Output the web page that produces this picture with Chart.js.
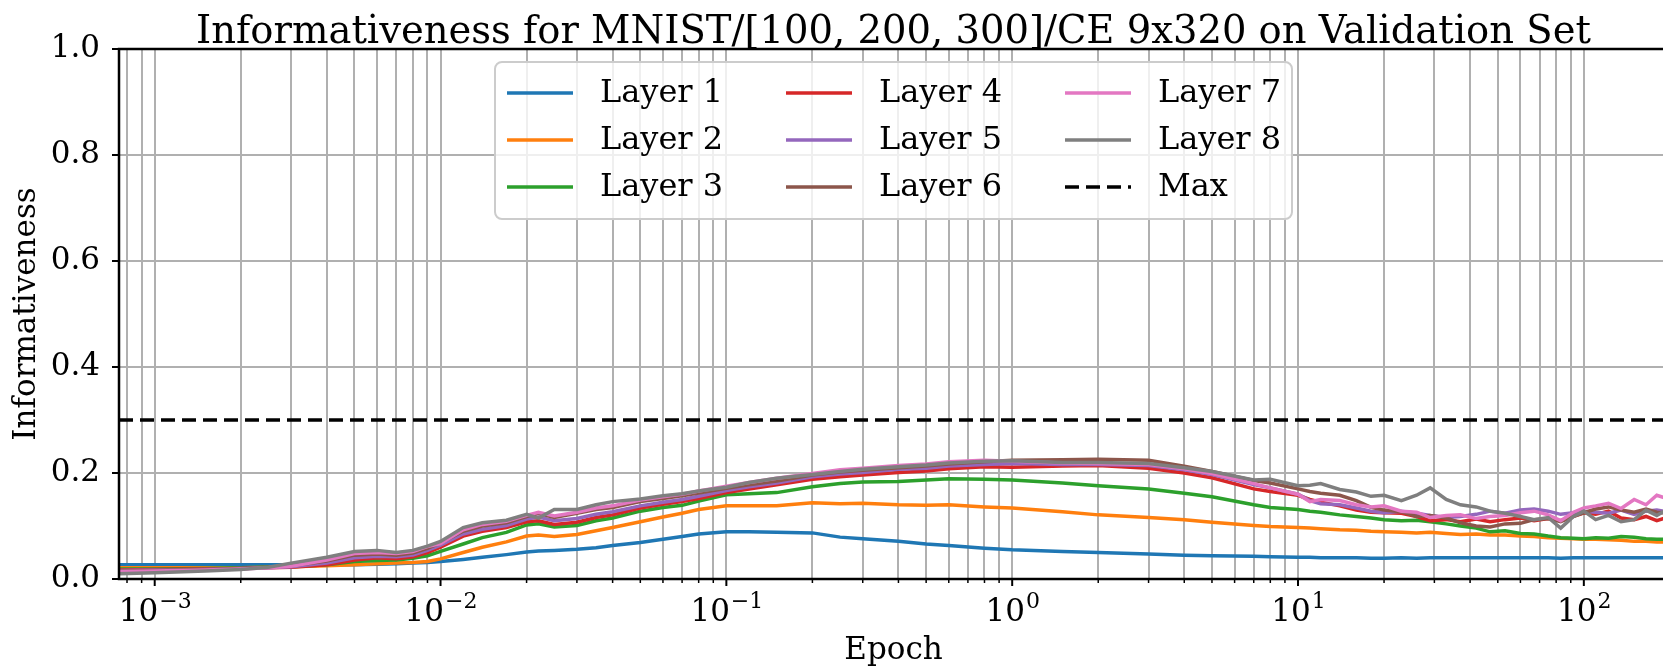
<!DOCTYPE html>
<html lang="en">

<head>
    <meta charset="UTF-8">
    <title>Informativeness</title>
    <style>
        html,
        body {
            margin: 0;
            padding: 0;
            background: #ffffff;
            overflow: hidden;
        }
    </style>
</head>

<body>
    <canvas id="myChart" width="1680" height="669"></canvas>
    <script src="https://cdn.jsdelivr.net/npm/chart.js"></script>
    <script>
        // x 軸 (epoch) 與各層數值
        const epochs = [0.00075, 0.001, 0.0015, 0.002, 0.0025, 0.003, 0.004, 0.005, 0.006, 0.007, 0.008, 0.009,
            0.01, 0.012, 0.014, 0.017, 0.02, 0.022, 0.025, 0.03, 0.035, 0.04, 0.05, 0.06,
            0.07, 0.08, 0.1, 0.12, 0.15, 0.2, 0.25, 0.3, 0.4, 0.5, 0.6, 0.8,
            1, 1.5, 2, 3, 4, 5, 7, 8, 10, 11, 12, 14,
            16, 18, 20, 23, 26, 29, 33, 37, 42, 47, 53, 60,
            67, 75, 83, 92, 100, 110, 122, 135, 150, 165, 180, 200];

        const layer1 = [0.027, 0.027, 0.027, 0.027, 0.027, 0.027, 0.027, 0.027, 0.028, 0.029, 0.030, 0.031,
            0.033, 0.037, 0.041, 0.046, 0.051, 0.053, 0.054, 0.056, 0.059, 0.063, 0.069, 0.075,
            0.080, 0.085, 0.089, 0.089, 0.088, 0.087, 0.079, 0.076, 0.071, 0.066, 0.063, 0.058,
            0.055, 0.052, 0.050, 0.047, 0.045, 0.044, 0.043, 0.042, 0.041, 0.041, 0.040, 0.040,
            0.040, 0.039, 0.039, 0.040, 0.039, 0.040, 0.040, 0.040, 0.040, 0.040, 0.040, 0.040,
            0.040, 0.040, 0.039, 0.040, 0.040, 0.040, 0.040, 0.040, 0.040, 0.040, 0.040, 0.040];
        const layer2 = [0.021, 0.021, 0.021, 0.021, 0.022, 0.023, 0.025, 0.027, 0.029, 0.030, 0.031, 0.033,
            0.038, 0.050, 0.060, 0.070, 0.081, 0.083, 0.080, 0.084, 0.091, 0.097, 0.108, 0.117,
            0.124, 0.131, 0.138, 0.138, 0.138, 0.144, 0.142, 0.143, 0.140, 0.139, 0.140, 0.136,
            0.134, 0.127, 0.121, 0.116, 0.112, 0.107, 0.101, 0.099, 0.097, 0.096, 0.095, 0.093,
            0.092, 0.090, 0.089, 0.088, 0.087, 0.088, 0.086, 0.084, 0.085, 0.083, 0.083, 0.081,
            0.080, 0.078, 0.077, 0.076, 0.075, 0.075, 0.074, 0.073, 0.071, 0.071, 0.070, 0.070];
        const layer3 = [0.019, 0.019, 0.020, 0.021, 0.022, 0.023, 0.027, 0.033, 0.035, 0.036, 0.039, 0.044,
            0.052, 0.066, 0.078, 0.088, 0.102, 0.104, 0.098, 0.101, 0.110, 0.115, 0.128, 0.135,
            0.139, 0.147, 0.159, 0.161, 0.163, 0.174, 0.180, 0.183, 0.184, 0.187, 0.189, 0.188,
            0.187, 0.181, 0.176, 0.170, 0.162, 0.155, 0.140, 0.135, 0.131, 0.128, 0.126, 0.121,
            0.118, 0.115, 0.112, 0.110, 0.111, 0.108, 0.104, 0.100, 0.096, 0.089, 0.091, 0.086,
            0.085, 0.081, 0.078, 0.077, 0.076, 0.078, 0.077, 0.080, 0.079, 0.076, 0.075, 0.075];
        const layer4 = [0.017, 0.018, 0.019, 0.020, 0.021, 0.022, 0.027, 0.036, 0.040, 0.038, 0.042, 0.050,
            0.060, 0.081, 0.090, 0.097, 0.108, 0.110, 0.103, 0.107, 0.116, 0.121, 0.134, 0.141,
            0.146, 0.152, 0.163, 0.170, 0.178, 0.188, 0.193, 0.196, 0.201, 0.204, 0.208, 0.212,
            0.211, 0.213, 0.214, 0.209, 0.200, 0.191, 0.170, 0.165, 0.158, 0.150, 0.145, 0.138,
            0.130, 0.126, 0.125, 0.124, 0.118, 0.110, 0.112, 0.108, 0.113, 0.108, 0.112, 0.115,
            0.110, 0.114, 0.110, 0.118, 0.125, 0.122, 0.128, 0.115, 0.112, 0.118, 0.110, 0.118];
        const layer5 = [0.016, 0.017, 0.018, 0.020, 0.021, 0.023, 0.030, 0.040, 0.043, 0.042, 0.045, 0.054,
            0.064, 0.085, 0.094, 0.101, 0.113, 0.117, 0.110, 0.114, 0.122, 0.127, 0.138, 0.145,
            0.150, 0.156, 0.167, 0.174, 0.181, 0.193, 0.198, 0.201, 0.207, 0.209, 0.213, 0.216,
            0.218, 0.216, 0.216, 0.214, 0.206, 0.197, 0.178, 0.172, 0.160, 0.148, 0.142, 0.140,
            0.134, 0.128, 0.125, 0.128, 0.124, 0.120, 0.116, 0.118, 0.122, 0.128, 0.124, 0.130,
            0.132, 0.128, 0.122, 0.125, 0.128, 0.126, 0.124, 0.130, 0.122, 0.128, 0.130, 0.126];
        const layer6 = [0.015, 0.016, 0.018, 0.020, 0.022, 0.025, 0.034, 0.045, 0.047, 0.045, 0.049, 0.058,
            0.068, 0.090, 0.100, 0.106, 0.118, 0.124, 0.116, 0.124, 0.131, 0.135, 0.146, 0.152,
            0.157, 0.162, 0.171, 0.178, 0.185, 0.196, 0.202, 0.205, 0.210, 0.213, 0.217, 0.221,
            0.224, 0.225, 0.226, 0.224, 0.213, 0.203, 0.186, 0.181, 0.170, 0.165, 0.162, 0.158,
            0.148, 0.135, 0.130, 0.127, 0.118, 0.120, 0.115, 0.106, 0.100, 0.098, 0.104, 0.105,
            0.112, 0.114, 0.108, 0.118, 0.125, 0.132, 0.136, 0.130, 0.126, 0.132, 0.126, 0.124];
        const layer7 = [0.014, 0.015, 0.017, 0.019, 0.021, 0.024, 0.036, 0.048, 0.050, 0.048, 0.052, 0.061,
            0.067, 0.093, 0.103, 0.109, 0.120, 0.126, 0.119, 0.126, 0.134, 0.138, 0.149, 0.155,
            0.160, 0.166, 0.175, 0.182, 0.190, 0.199, 0.206, 0.209, 0.214, 0.217, 0.221, 0.224,
            0.222, 0.219, 0.218, 0.216, 0.208, 0.199, 0.180, 0.172, 0.160, 0.146, 0.150, 0.148,
            0.140, 0.136, 0.138, 0.128, 0.126, 0.116, 0.120, 0.121, 0.114, 0.118, 0.120, 0.125,
            0.128, 0.121, 0.110, 0.126, 0.134, 0.138, 0.143, 0.133, 0.150, 0.140, 0.158, 0.150];
        const layer8 = [0.010, 0.012, 0.015, 0.018, 0.022, 0.030, 0.041, 0.052, 0.054, 0.050, 0.054, 0.062,
            0.071, 0.097, 0.106, 0.111, 0.122, 0.115, 0.131, 0.131, 0.140, 0.146, 0.151, 0.157,
            0.161, 0.166, 0.173, 0.182, 0.190, 0.197, 0.203, 0.207, 0.212, 0.215, 0.219, 0.222,
            0.223, 0.220, 0.220, 0.218, 0.210, 0.203, 0.187, 0.188, 0.176, 0.177, 0.180, 0.169,
            0.164, 0.156, 0.158, 0.148, 0.158, 0.172, 0.150, 0.140, 0.136, 0.128, 0.124, 0.118,
            0.112, 0.116, 0.096, 0.118, 0.128, 0.112, 0.120, 0.108, 0.112, 0.130, 0.120, 0.134];
        const maxValue = 0.3;

        const layerNames = ['Layer 1', 'Layer 2', 'Layer 3', 'Layer 4', 'Layer 5', 'Layer 6', 'Layer 7', 'Layer 8'];
        const layerColors = ['#1f77b4', '#ff7f0e', '#2ca02c', '#d62728', '#9467bd', '#8c564b', '#e377c2', '#7f7f7f'];
        const layerValues = [layer1, layer2, layer3, layer4, layer5, layer6, layer7, layer8];
        const yTicks = [0, 0.2, 0.4, 0.6, 0.8, 1.0];

        const xMin = 0.00075;
        const xMax = 197;
        const serif = "'DejaVu Serif', serif";

        const datasets = layerValues.map((vals, i) => ({
            label: layerNames[i],
            data: vals.map((v, j) => ({ x: epochs[j], y: v })),
            borderColor: layerColors[i],
            backgroundColor: layerColors[i],
            borderWidth: 3.5,
            pointRadius: 0,
            tension: 0,
            order: -i
        }));
        datasets.push({
            label: 'Max',
            data: [{ x: xMin, y: maxValue }, { x: xMax, y: maxValue }],
            borderColor: '#000000',
            backgroundColor: '#000000',
            borderWidth: 3.5,
            borderDash: [14, 7],
            pointRadius: 0,
            order: -8
        });

        // 標題、軸標籤、x 軸刻度、外框、圖例
        const decorPlugin = {
            id: 'decor',
            afterDatasetsDraw(chart) {
                const ctx = chart.ctx;
                const a = chart.chartArea;
                const xs = chart.scales.x;
                ctx.save();

                // 外框
                ctx.strokeStyle = '#000';
                ctx.lineWidth = 2.5;
                ctx.strokeRect(a.left, a.top, a.right - a.left, a.bottom - a.top);

                // x 軸刻度
                xs.ticks.forEach(t => {
                    const px = xs.getPixelForValue(t.value);
                    ctx.beginPath();
                    ctx.lineWidth = t.major ? 2 : 1.5;
                    ctx.moveTo(px, a.bottom);
                    ctx.lineTo(px, a.bottom + (t.major ? 7 : 4));
                    ctx.stroke();
                    if (t.major) {
                        const e = Math.round(Math.log10(t.value));
                        const expText = e < 0 ? '\u2212' + Math.abs(e) : String(e);
                        ctx.font = '31px ' + serif;
                        const w1 = ctx.measureText('10').width;
                        ctx.font = '22px ' + serif;
                        const w2 = ctx.measureText(expText).width;
                        const x0 = px - (w1 + w2) / 2;
                        ctx.fillStyle = '#000';
                        ctx.textAlign = 'left';
                        ctx.textBaseline = 'alphabetic';
                        ctx.font = '31px ' + serif;
                        ctx.fillText('10', x0, 621);
                        ctx.font = '22px ' + serif;
                        ctx.fillText(expText, x0 + w1 + 1, 608);
                    }
                });

                // 標題
                const cx = (a.left + a.right) / 2;
                ctx.fillStyle = '#000';
                ctx.textAlign = 'center';
                ctx.textBaseline = 'alphabetic';
                ctx.font = '38.5px ' + serif;
                ctx.fillText('Informativeness for MNIST/[100, 200, 300]/CE 9x320 on Validation Set', cx, 43);
                ctx.font = '31px ' + serif;
                ctx.fillText('Epoch', cx, 659);
                ctx.save();
                ctx.translate(27, (a.top + a.bottom) / 2);
                ctx.rotate(-Math.PI / 2);
                ctx.textBaseline = 'middle';
                ctx.fillText('Informativeness', 0, 0);
                ctx.restore();

                // 圖例 (3 欄, 由上往下排)
                const bx = 495, by = 62, bw = 797, bh = 157;
                ctx.beginPath();
                ctx.roundRect(bx, by, bw, bh, 7);
                ctx.fillStyle = 'rgba(255,255,255,0.8)';
                ctx.fill();
                ctx.strokeStyle = '#cccccc';
                ctx.lineWidth = 2;
                ctx.stroke();
                chart.data.datasets.forEach((ds, i) => {
                    const col = Math.floor(i / 3), row = i % 3;
                    const hx = 507 + col * 279;
                    const hy = 93 + row * 47;
                    ctx.beginPath();
                    ctx.strokeStyle = ds.borderColor;
                    ctx.lineWidth = 3.5;
                    ctx.setLineDash(ds.borderDash || []);
                    ctx.moveTo(hx, hy);
                    ctx.lineTo(hx + 66, hy);
                    ctx.stroke();
                    ctx.setLineDash([]);
                    ctx.fillStyle = '#000';
                    ctx.textAlign = 'left';
                    ctx.textBaseline = 'middle';
                    ctx.font = '32px ' + serif;
                    ctx.fillText(ds.label, hx + 93, hy + 1);
                });
                ctx.restore();
            }
        };

        const ctx = document.getElementById('myChart').getContext('2d');
        const myChart = new Chart(ctx, {
            type: 'line',
            data: { datasets: datasets },
            options: {
                responsive: false,
                animation: false,
                layout: { padding: { left: 0, top: 49, right: 12, bottom: 0 } },
                plugins: {
                    legend: { display: false },
                    title: { display: false },
                    tooltip: { enabled: false }
                },
                scales: {
                    x: {
                        type: 'logarithmic',
                        min: xMin,
                        max: xMax,
                        border: { display: false },
                        grid: { color: '#b0b0b0', lineWidth: 2, drawTicks: false },
                        ticks: { display: false },
                        afterBuildTicks(scale) {
                            const ticks = [];
                            for (let e = -4; e <= 2; e++) {
                                for (let s = 1; s <= 9; s++) {
                                    const v = s * Math.pow(10, e);
                                    if (v >= xMin && v <= xMax) ticks.push({ value: v, major: s === 1 });
                                }
                            }
                            scale.ticks = ticks;
                        },
                        afterFit(scale) { scale.height = 90; }
                    },
                    y: {
                        min: 0,
                        max: 1,
                        border: { display: false },
                        grid: { color: '#b0b0b0', lineWidth: 2, tickLength: 7, tickColor: '#000', tickWidth: 2 },
                        ticks: {
                            padding: 12,
                            color: '#000',
                            font: { family: serif, size: 31 },
                            callback: v => v.toFixed(1)
                        },
                        afterBuildTicks(scale) {
                            scale.ticks = yTicks.map(v => ({ value: v }));
                        },
                        afterFit(scale) { scale.width = 119; }
                    }
                }
            },
            plugins: [decorPlugin]
        });
    </script>
</body>

</html>
